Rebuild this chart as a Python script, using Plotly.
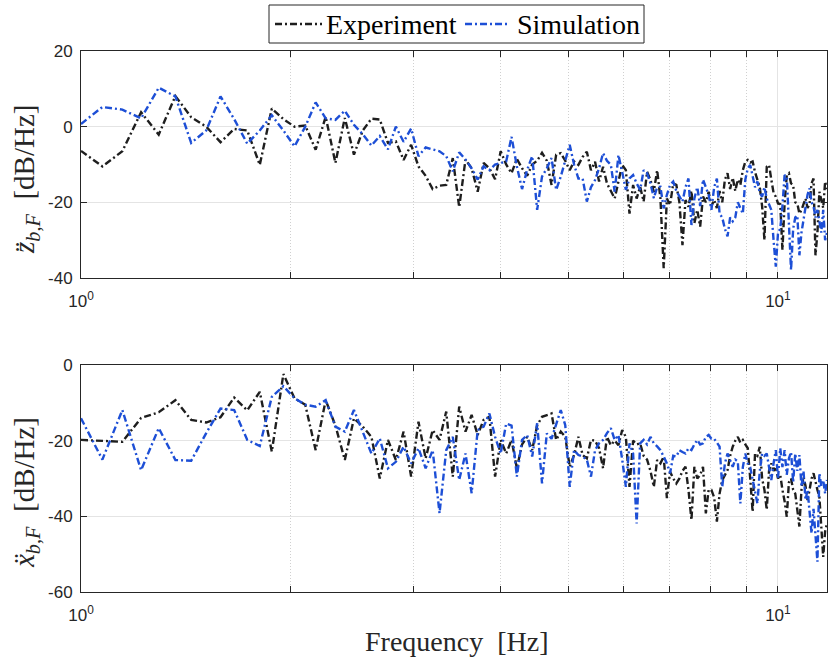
import numpy as np
import plotly.graph_objects as go

# ---------------- data ----------------
F_START = 1.0      # Hz, first frequency bin
F_STEP = 0.0732    # Hz, bin spacing

# top panel: z-acceleration PSD [dB/Hz]
z_exp = [-6.4, -10.5, -6.5, 3.8, -2.1, 8.1, 2.5, 0.0, -4.1, -0.6,
         -1.0, -10.1, 4.8, 2.0, 0.0, 0.3, -6.1, 2.6, -9.6, 2.3,
         -7.4, -1.0, 2.1, 1.9, -4.3, -3.9, -8.8, -4.8, -10.5,
         -13.0, -16.5, -15.6, -15.4, -8.3, -21.3, -8.7, -11.0, -17.2, -9.6,
         -11.0, -13.9, -6.5, -10.0, -12.3, -8.5, -11.0, -13.0, -10.0, -9.0,
         -6.9, -9.0, -15.4, -7.4,
         -7.0, -9.0, -11.5, -9.2, -10.1, -8.0, -6.6, -11.5, -9.3, -14.5,
         -10.6, -15.0, -17.0, -19.0, -14.5, -10.1, -11.5, -23.0, -15.4, -19.0,
         -15.9, -19.8, -11.9, -14.1, -17.2, -11.5, -19.0, -37.4, -19.0, -20.7,
         -15.0, -15.4, -20.0, -31.3, -19.4, -21.2, -17.0, -25.5,
         -22.0, -26.4, -18.5, -20.0, -17.2, -21.0, -19.4, -21.5, -17.0, -20.0,
         -14.0, -12.3, -16.5, -13.5, -17.0, -14.0, -15.4, -11.5, -9.3, -8.8,
         -9.5, -9.2, -12.0, -14.1, -16.0, -21.0, -30.0, -10.6, -10.1, -14.0,
         -17.5, -18.5, -20.3, -20.5, -32.6, -20.3, -12.8, -12.3, -15.0, -15.4,
         -20.0, -20.3, -23.0, -22.0, -20.3, -19.0, -21.5, -20.5, -15.0, -13.7,
         -34.0, -28.0, -17.2, -19.0, -21.5, -14.5, -16.5]

z_sim = [0.7, 5.2, 4.5, 2.2, 10.3, 8.0, -4.3, -1.0, 8.0, 2.0,
         -4.5, -1.0, 3.0, -1.0, -5.2, 0.0, 6.4, 2.2, 1.8, 4.2,
         0.5, -2.0, -5.0, -2.5, -6.0, 0.0, -4.0, -0.5, -7.8,
         -5.5, -6.0, -6.5, -7.8, -11.8, -6.8, -8.7, -11.0, -14.0, -10.5,
         -11.5, -10.0, -9.5, -9.2, -2.7, -10.5, -16.5, -11.4, -7.8, -22.0,
         -13.2, -11.0, -8.3, -16.7,
         -13.2, -9.0, -4.8, -10.0, -13.7, -13.7, -19.8, -16.0, -14.1, -11.0,
         -7.0, -9.0, -10.1, -17.2, -7.5, -12.0, -16.7, -13.7, -12.8, -15.0,
         -16.7, -11.5, -12.3, -15.0, -18.9, -16.0, -15.9, -21.6, -18.0, -15.4,
         -14.5, -17.0, -18.5, -19.8, -16.0, -13.7, -26.0, -19.0,
         -16.0, -21.0, -14.0, -16.0, -18.0, -22.0, -16.0, -13.7, -23.0, -24.0,
         -27.0, -29.0, -24.0, -25.0, -24.0, -20.0, -21.5, -23.0, -14.0, -11.0,
         -10.1, -13.0, -16.0, -14.5, -17.5, -18.5, -16.0, -19.0, -20.3, -22.0,
         -30.0, -37.0, -28.0, -27.0, -21.0, -12.8, -13.2, -25.0, -37.9, -27.0,
         -24.0, -23.5, -34.0, -28.0, -25.0, -22.0, -18.0, -16.3, -20.0, -21.0,
         -24.0, -22.0, -25.0, -28.0, -22.0, -30.0, -28.0]

# bottom panel: x-acceleration PSD [dB/Hz]
x_exp = [-19.8, -20.0, -20.3, -14.0, -12.5, -9.3, -14.5, -15.2, -13.8, -8.6,
         -12.0, -7.1, -22.9, -2.4, -8.8, -10.5, -22.5, -9.3, -16.0, -25.1,
         -14.1, -16.3, -19.0, -30.0, -19.8, -25.1, -17.6, -29.5, -15.0,
         -24.7, -17.2, -19.8, -12.3, -29.5, -11.0, -17.6, -13.2, -18.5, -14.5,
         -13.7, -29.5, -19.8, -23.4, -19.8, -27.3, -21.0, -19.0, -22.5, -16.0,
         -13.7, -13.2, -12.8, -19.8, -17.6, -19.0, -26.9, -23.8, -19.0, -23.8,
         -24.7, -19.8, -20.0, -22.0, -27.3, -19.0, -21.2, -20.0, -21.2, -17.2,
         -19.0, -32.2, -20.0, -21.0, -20.7, -24.0, -25.0, -28.0, -32.2, -25.1,
         -26.0, -24.2, -35.2, -28.2, -30.0, -31.3, -30.0, -28.0, -26.9, -33.0,
         -41.0, -26.9, -30.0, -29.1, -26.9, -39.2, -33.0, -33.0, -35.0, -41.4,
         -34.0, -30.4, -29.0, -27.8, -24.0, -21.6, -20.0, -19.0, -20.5, -19.8,
         -21.0, -22.0, -30.0, -38.8, -23.4, -24.0, -21.6, -30.0, -33.0, -38.3,
         -28.0, -26.0, -28.0, -27.0, -30.0, -29.0, -33.0, -36.0, -40.1, -31.0,
         -30.0, -33.0, -34.0, -38.0, -42.7, -33.0, -29.5, -32.0, -35.7, -33.0,
         -30.0, -28.6, -31.0, -33.0, -34.8, -42.0, -50.7, -44.0, -41.9]

x_sim = [-14.1, -25.0, -11.9, -27.8, -16.7, -25.1, -25.3, -18.0, -11.5, -11.9,
         -19.8, -21.4, -8.4, -5.6, -8.8, -10.5, -11.0, -9.3, -16.3, -17.6,
         -11.9, -18.0, -23.4, -19.4, -27.3, -25.6, -21.6, -26.0, -22.0,
         -27.3, -22.5, -39.2, -22.5, -19.0, -30.4, -23.4, -33.9, -17.2, -16.3,
         -12.8, -19.0, -23.4, -15.5, -16.0, -29.5, -19.8, -18.5, -24.2, -15.4,
         -31.3, -18.1, -19.5, -15.4, -11.9, -15.9, -32.2, -22.5, -23.8, -24.2,
         -25.0, -29.5, -22.5, -20.7, -19.8, -18.0, -16.7, -19.8, -18.5, -25.0,
         -32.2, -20.7, -23.4, -41.9, -20.7, -19.8, -21.0, -19.0, -20.7, -21.5,
         -22.5, -24.2, -26.0, -28.6, -24.0, -24.2, -22.5, -23.0, -23.4, -22.0,
         -22.5, -21.0, -19.8, -21.0, -20.7, -19.0, -18.5, -19.5, -19.5, -20.5,
         -21.6, -32.2, -26.0, -23.4, -25.0, -26.9, -25.0, -25.5, -36.6, -27.0,
         -23.4, -26.0, -27.0, -30.0, -33.0, -36.6, -28.0, -23.4, -24.0, -23.4,
         -27.0, -30.4, -26.0, -22.5, -30.0, -22.0, -27.0, -22.5, -29.0, -24.7,
         -23.0, -31.0, -23.4, -28.0, -23.8, -32.2, -28.0, -35.7, -33.0, -40.0,
         -44.5, -38.0, -46.0, -52.0, -28.6, -32.0, -30.4, -34.0, -30.4]

Z_TICKS = [-40, -20, 0, 20]
X_TICKS = [-60, -40, -20, 0]
LOG_TICKS = [1, 10]
LOG_TICK_TEXT = ["10<sup>0</sup>", "10<sup>1</sup>"]
MINOR_TICKS = [2, 3, 4, 5, 6, 7, 8, 9]
SERIES_NAMES = ["Experiment", "Simulation"]

freq = F_START + F_STEP * np.arange(len(z_exp))

# ---------------- styling ----------------
W, H = 828, 663
AX = "#262626"
SERIF = "Liberation Serif, Times New Roman, serif"
SANS = "Liberation Sans, Arial, Helvetica, sans-serif"
C_EXP = "#1e1e1e"
C_SIM = "#1d4fd6"
LW = 2.4
DASH = "7px,3px,2px,3px"
GRID = "#e4e4e4"
MINOR_GRID = "#d0d0d0"

x_dom = [81 / W, 827 / W]
top_dom = [1 - 278 / H, 1 - 51 / H]
bot_dom = [1 - 592 / H, 1 - 365 / H]


def px(x):
    return x / W


def py(y):
    return 1 - y / H


fig = go.Figure()
fig.add_trace(go.Scatter(x=freq, y=z_exp, mode="lines", name=SERIES_NAMES[0],
                         line=dict(color=C_EXP, width=LW, dash=DASH),
                         xaxis="x", yaxis="y"))
fig.add_trace(go.Scatter(x=freq, y=z_sim, mode="lines", name=SERIES_NAMES[1],
                         line=dict(color=C_SIM, width=LW, dash=DASH),
                         xaxis="x", yaxis="y"))
fig.add_trace(go.Scatter(x=freq, y=x_exp, mode="lines", name=SERIES_NAMES[0],
                         line=dict(color=C_EXP, width=LW, dash=DASH),
                         xaxis="x2", yaxis="y2"))
fig.add_trace(go.Scatter(x=freq, y=x_sim, mode="lines", name=SERIES_NAMES[1],
                         line=dict(color=C_SIM, width=LW, dash=DASH),
                         xaxis="x2", yaxis="y2"))


def xstyle(anchor):
    return dict(
        type="log", range=[0, float(np.log10(freq[-1]))], domain=x_dom, anchor=anchor,
        showline=True, linecolor=AX, linewidth=1, mirror="ticks",
        ticks="inside", ticklen=6, tickcolor=AX, tickwidth=1,
        tickmode="array", tickvals=LOG_TICKS, ticktext=LOG_TICK_TEXT,
        tickfont=dict(family=SANS, size=17, color=AX), ticklabelstandoff=8,
        showgrid=True, gridcolor=GRID, gridwidth=1, zeroline=False,
        minor=dict(tickmode="array", tickvals=MINOR_TICKS, ticks="inside", ticklen=6,
                   tickcolor=AX, showgrid=True, gridcolor=MINOR_GRID, griddash="1px,2px",
                   gridwidth=1),
        automargin=False, fixedrange=True,
    )


def ystyle(anchor, rng, vals, dom):
    return dict(
        range=rng, domain=dom, anchor=anchor,
        showline=True, linecolor=AX, linewidth=1, mirror="ticks",
        ticks="inside", ticklen=6, tickcolor=AX, tickwidth=1,
        tickmode="array", tickvals=vals, ticktext=[str(v) for v in vals],
        tickfont=dict(family=SANS, size=17, color=AX), ticklabelstandoff=4,
        showgrid=True, gridcolor=GRID, gridwidth=1, zeroline=False,
        automargin=False, fixedrange=True,
    )


# legend box drawn like the MATLAB legend
LEG_Y = 24
shapes = [
    dict(type="rect", xref="paper", yref="paper", x0=px(269), x1=px(644),
         y0=py(43), y1=py(5), line=dict(color=AX, width=1), fillcolor="white",
         layer="above"),
    dict(type="line", xref="paper", yref="paper", x0=px(275), x1=px(322),
         y0=py(LEG_Y), y1=py(LEG_Y), line=dict(color=C_EXP, width=LW, dash=DASH),
         layer="above"),
    dict(type="line", xref="paper", yref="paper", x0=px(465), x1=px(510),
         y0=py(LEG_Y), y1=py(LEG_Y), line=dict(color=C_SIM, width=LW, dash=DASH),
         layer="above"),
]

annotations = [
    dict(text=SERIES_NAMES[0], x=px(324), y=py(LEG_Y + 1), xref="paper", yref="paper",
         showarrow=False, xanchor="left", yanchor="middle",
         font=dict(family=SERIF, size=28, color="black")),
    dict(text=SERIES_NAMES[1], x=px(515), y=py(LEG_Y + 1), xref="paper", yref="paper",
         showarrow=False, xanchor="left", yanchor="middle",
         font=dict(family=SERIF, size=28, color="black")),
    dict(text="<i>z̈</i><sub><i>b,F</i></sub>\u2002[dB/Hz]", x=px(26), y=py(180),
         xref="paper", yref="paper", showarrow=False, textangle=-90,
         xanchor="center", yanchor="middle",
         font=dict(family=SERIF, size=29, color=AX)),
    dict(text="<i>ẍ</i><sub><i>b,F</i></sub>\u2002[dB/Hz]", x=px(26), y=py(493),
         xref="paper", yref="paper", showarrow=False, textangle=-90,
         xanchor="center", yanchor="middle",
         font=dict(family=SERIF, size=29, color=AX)),
    dict(text="Frequency\u2002[Hz]", x=px(456), y=py(641),
         xref="paper", yref="paper", showarrow=False,
         xanchor="center", yanchor="middle",
         font=dict(family=SERIF, size=28, color=AX)),
]

fig.update_layout(
    width=W, height=H,
    margin=dict(l=0, r=0, t=0, b=0, pad=0),
    paper_bgcolor="white", plot_bgcolor="white",
    template="none",
    xaxis=xstyle("y"),
    yaxis=ystyle("x", [-40, 20], Z_TICKS, top_dom),
    xaxis2=xstyle("y2"),
    yaxis2=ystyle("x2", [-60, 0], X_TICKS, bot_dom),
    showlegend=False,
    shapes=shapes,
    annotations=annotations,
)

fig.write_html("out.html")
